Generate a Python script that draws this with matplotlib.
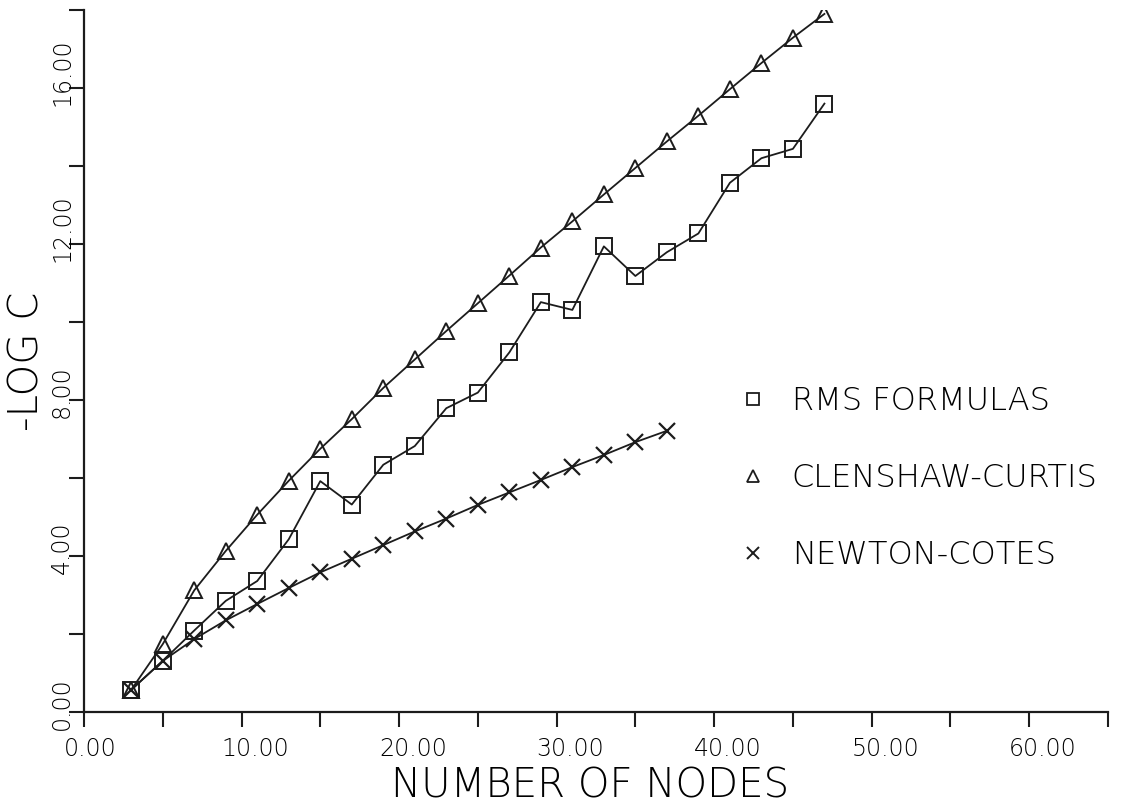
import numpy as np
import matplotlib
matplotlib.use('Agg')
import matplotlib.pyplot as plt
import matplotlib.transforms as mtransforms
from matplotlib.lines import Line2D

# number of nodes (odd counts)
nodes = list(range(3, 49, 2))
nodes_nc = list(range(3, 39, 2))

# -log C values
rms = [0.57, 1.31, 2.09, 2.85, 3.36, 4.43, 5.92, 5.32, 6.34, 6.82, 7.79, 8.19,
       9.22, 10.51, 10.31, 11.94, 11.18, 11.79, 12.27, 13.57, 14.20, 14.44, 15.60]
clenshaw = [0.57, 1.74, 3.12, 4.13, 5.06, 5.93, 6.75, 7.51, 8.31, 9.04, 9.77, 10.48,
            11.19, 11.91, 12.58, 13.27, 13.95, 14.63, 15.29, 15.97, 16.64, 17.29, 17.90]
newton = [0.57, 1.31, 1.87, 2.35, 2.77, 3.18, 3.58, 3.93, 4.28, 4.63, 4.96, 5.31,
          5.63, 5.95, 6.28, 6.59, 6.92, 7.21]

labels = ['RMS FORMULAS', 'CLENSHAW-CURTIS', 'NEWTON-COTES']
xticks = [0, 10, 20, 30, 40, 50, 60]
xticklabels = ['0.00', '10.00', '20.00', '30.00', '40.00', '50.00', '60.00']
yticks = [0, 4, 8, 12, 16]
yticklabels = ['0.00', '4.00', '8.00', '12.00', '16.00']

ink = '#1c1c1c'
txt = 'black'
plt.rcParams['font.family'] = ['DejaVu Sans']
plt.rcParams['font.weight'] = 'light'
plt.rcParams['axes.labelweight'] = 'light'

fig = plt.figure(figsize=(11.47, 8.08), dpi=100)
ax = fig.add_axes([0.0732, 0.1188, 0.8928, 0.8688])

ax.plot(nodes, rms, color=ink, lw=1.3, marker='s', ms=12, mfc='none', mec=ink, mew=1.4)
ax.plot(nodes, clenshaw, color=ink, lw=1.3, marker='^', ms=11, mfc='none', mec=ink, mew=1.4)
ax.plot(nodes_nc, newton, color=ink, lw=1.3, marker='x', ms=12, mec=ink, mew=1.6)

ax.set_xlim(0, 65)
ax.set_ylim(0, 18)
for side in ['top', 'right']:
    ax.spines[side].set_visible(False)
for side in ['left', 'bottom']:
    ax.spines[side].set_linewidth(1.6)
    ax.spines[side].set_color(ink)

ax.set_xticks(xticks)
ax.set_xticklabels(xticklabels, fontsize=17, color=txt)
ax.set_xticks(np.arange(5, 70, 10), minor=True)
ax.set_yticks(yticks)
ax.set_yticklabels(yticklabels, fontsize=17, color=txt, rotation=90)
ax.set_yticks(np.arange(2, 20, 4), minor=True)
ax.tick_params(axis='both', which='both', direction='out', length=11, width=1.5, color=ink)
ax.tick_params(axis='x', which='major', pad=7)
ax.tick_params(axis='y', which='major', pad=-4)

# shift tick labels the way the plotter placed them
dx = mtransforms.ScaledTranslation(-20 / 100, 0, fig.dpi_scale_trans)
for lab in ax.get_xticklabels():
    lab.set_horizontalalignment('left')
    lab.set_transform(lab.get_transform() + dx)
dy = mtransforms.ScaledTranslation(0, -18 / 100, fig.dpi_scale_trans)
for lab in ax.get_yticklabels():
    lab.set_verticalalignment('bottom')
    lab.set_transform(lab.get_transform() + dy)

ax.set_xlabel('NUMBER OF NODES', fontsize=29, color=txt)
ax.xaxis.set_label_coords(0.494, -0.078)
ax.set_ylabel('-LOG C', fontsize=29, color=txt)
ax.yaxis.set_label_coords(-0.037, 0.5)

handles = [
    Line2D([], [], ls='none', marker='s', ms=8, mfc='none', mec=ink, mew=1.3),
    Line2D([], [], ls='none', marker='^', ms=8, mfc='none', mec=ink, mew=1.3),
    Line2D([], [], ls='none', marker='x', ms=9, mec=ink, mew=1.4),
]
leg = ax.legend(handles, labels, loc='upper left', bbox_to_anchor=(740 / 1147, 1 - 386 / 808),
                bbox_transform=fig.transFigure, frameon=False, fontsize=23,
                handlelength=0.8, handletextpad=0.82, labelspacing=1.47,
                borderpad=0, borderaxespad=0)
for t in leg.get_texts():
    t.set_color(txt)

fig.savefig('out.png', dpi=100, facecolor='white')
